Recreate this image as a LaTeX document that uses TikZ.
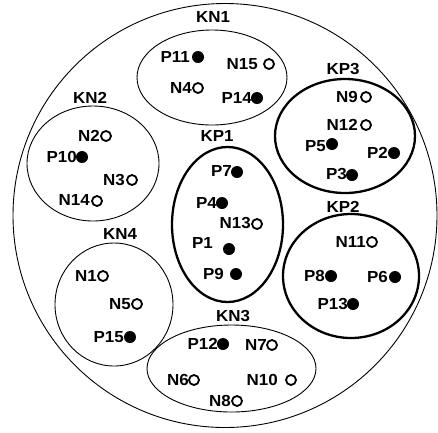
\documentclass[tikz,border=0pt]{standalone}
\usepackage{fontspec}
\setmainfont{Liberation Sans}[FakeStretch=1.06]
\usetikzlibrary{shapes.geometric}
\begin{document}
\begin{tikzpicture}[x=1pt,y=-1pt,
  lab/.style={font=\fontsize{16}{17}\selectfont\bfseries, inner sep=0pt, anchor=east},
  grp/.style={font=\fontsize{16}{17}\selectfont\bfseries, inner sep=0pt},
  pdot/.style={circle, fill=black, inner sep=0pt, minimum size=12pt},
  ndot/.style={circle, draw=black, line width=1.8pt, inner sep=0pt, minimum size=10pt},
  thin/.style={draw=black, line width=0.9pt},
  thick/.style={draw=black, line width=2.3pt}]
\useasboundingbox (0,0) rectangle (438,432);
\fill[white] (0,0) rectangle (438,432);
% outer circle
\draw[thin] (225,215.5) circle [radius=212];
% group ellipses
\draw[thin]  (212,77.5) ellipse [x radius=75, y radius=47.5];
\draw[thin]  (93,163.5) ellipse [x radius=66, y radius=57.5];
\draw[thick] (227.5,224.5) ellipse [x radius=55.5, y radius=77.5];
\draw[thick] (345,136) ellipse [x radius=70, y radius=57];
\draw[thick] (351,276) ellipse [x radius=68, y radius=62];
\draw[thin]  (114,304.5) ellipse [x radius=59, y radius=61.5];
\draw[thin]  (231.5,368.5) ellipse [x radius=84.5, y radius=43.5];
% group labels
\node[grp] (gKN1) at (213,17) {KN1};
\node[grp] (gKN2) at (90,98) {KN2};
\node[grp] (gKP1) at (217,136) {KP1};
\node[grp] (gKP3) at (343,69) {KP3};
\node[grp] (gKP2) at (343,207) {KP2};
\node[grp] (gKN4) at (120,234) {KN4};
\node[grp] (gKN3) at (233,316) {KN3};
% KN1
\node[pdot] (P11) at (198,57) {}; \node[lab] (tP11) at (190,57) {P11};
\node[ndot] (N15) at (269,64) {};  \node[lab] (tN15) at (258,64) {N15};
\node[ndot] (N4) at (198,88) {};   \node[lab] (tN4) at (192,88) {N4};
\node[pdot] (P14) at (257,98) {};  \node[lab] (tP14) at (252,98) {P14};
% KN2
\node[ndot] (N2) at (106,136) {};  \node[lab] (tN2) at (100,136) {N2};
\node[pdot] (P10) at (82,157) {};  \node[lab] (tP10) at (77,157) {P10};
\node[ndot] (N3) at (132,180) {};  \node[lab] (tN3) at (125,180) {N3};
\node[ndot] (N14) at (97,201) {};  \node[lab] (tN14) at (90,200) {N14};
% KP1
\node[pdot] (P7) at (237,172) {};  \node[lab] (tP7) at (232,171) {P7};
\node[pdot] (P4) at (222,203) {};  \node[lab] (tP4) at (217,203) {P4};
\node[ndot] (N13) at (257,224) {}; \node[lab] (tN13) at (251,223) {N13};
\node[pdot] (P1) at (229,249) {};  \node[lab] (tP1) at (213,243) {P1};
\node[pdot] (P9) at (236,274) {};  \node[lab] (tP9) at (224,274) {P9};
% KP3
\node[ndot] (N9) at (366,97) {};   \node[lab] (tN9) at (358,97) {N9};
\node[ndot] (N12) at (366,125) {}; \node[lab] (tN12) at (358,125) {N12};
\node[pdot] (P5) at (332,144) {};  \node[lab] (tP5) at (326,146) {P5};
\node[pdot] (P2) at (394,153) {};  \node[lab] (tP2) at (388,153) {P2};
\node[pdot] (P3) at (352,175) {};  \node[lab] (tP3) at (347,174) {P3};
% KP2
\node[ndot] (N11) at (372,242) {}; \node[lab] (tN11) at (366,242) {N11};
\node[pdot] (P8) at (331,276) {};  \node[lab] (tP8) at (325,276) {P8};
\node[pdot] (P6) at (395,277) {};  \node[lab] (tP6) at (388,277) {P6};
\node[pdot] (P13) at (353,304) {}; \node[lab] (tP13) at (348,304) {P13};
% KN4
\node[ndot] (N1) at (103,276) {};  \node[lab] (tN1) at (97,276) {N1};
\node[ndot] (N5) at (137,304) {};  \node[lab] (tN5) at (131,304) {N5};
\node[pdot] (P15) at (130,337) {}; \node[lab] (tP15) at (124,337) {P15};
% KN3
\node[pdot] (P12) at (223,344) {}; \node[lab] (tP12) at (218,344) {P12};
\node[ndot] (N7) at (272,345) {};  \node[lab] (tN7) at (267,345) {N7};
\node[ndot] (N6) at (194,380) {};  \node[lab] (tN6) at (189,380) {N6};
\node[ndot] (N10) at (291,380) {}; \node[lab] (tN10) at (278,380) {N10};
\node[ndot] (N8) at (237,401) {};  \node[lab] (tN8) at (231,401) {N8};
\end{tikzpicture}
\end{document}
